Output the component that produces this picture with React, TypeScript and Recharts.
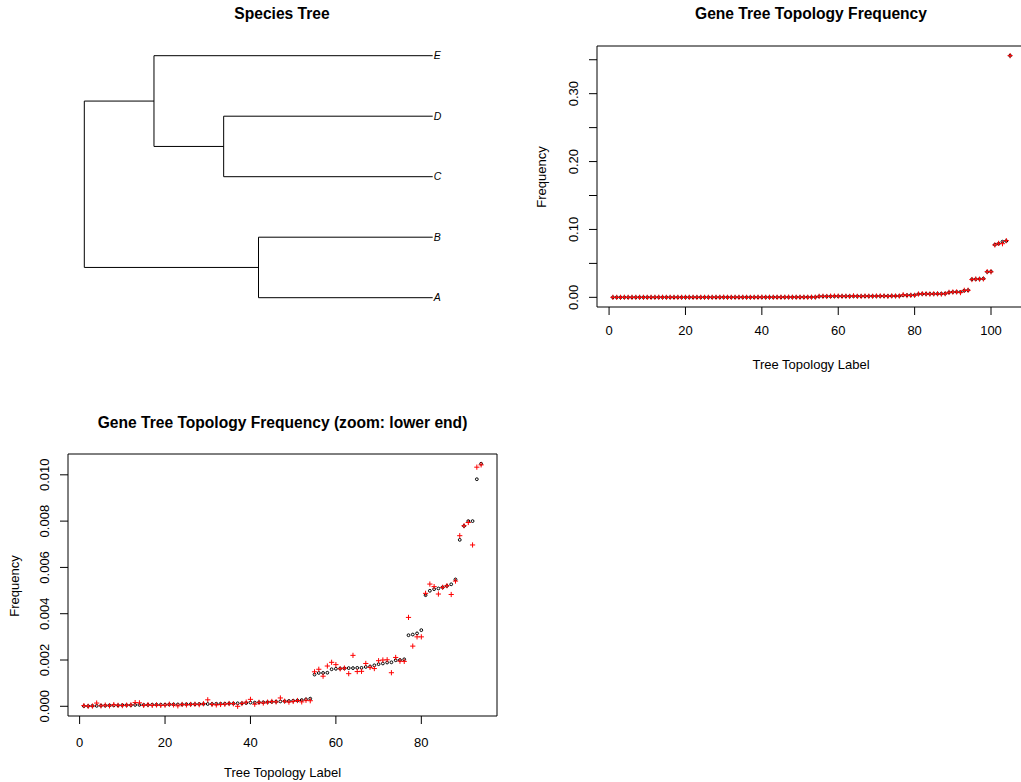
import { ScatterChart, Scatter, XAxis, YAxis, ReferenceArea, ReferenceLine } from 'recharts';

const FONT = '"Liberation Sans", Arial, Helvetica, sans-serif';

// species tree: ((E,(D,C)),(B,A)), depth measured from the root
const tipNames = ['A', 'B', 'C', 'D', 'E'];
const tipDepth = [1, 1, 1, 1, 1];
const nodeNames = ['root', 'AB', 'CDE', 'CD'];
const nodeDepth = [0, 0.5, 0.2, 0.4];
const nodeChildren = [['AB', 'CDE'], ['A', 'B'], ['CD', 'E'], ['C', 'D']];

// gene tree topology frequencies, sorted by expected value
const expectedFreq = [
  0.00001, 0.00001, 0.00002, 0.00002, 0.00003, 0.00003, 0.00004, 0.00004, 0.00004, 0.00005,
  0.00005, 0.00005, 0.00006, 0.00006, 0.00006, 0.00006, 0.00007, 0.00007, 0.00007, 0.00007,
  0.00008, 0.00008, 0.00008, 0.00008, 0.00009, 0.00009, 0.00009, 0.0001, 0.0001, 0.0001,
  0.0001, 0.00011, 0.00011, 0.00011, 0.00012, 0.00012, 0.00013, 0.00013, 0.00014, 0.00016,
  0.00016, 0.00017, 0.00017, 0.00018, 0.00019, 0.0002, 0.00021, 0.00022, 0.00023, 0.00024,
  0.00025, 0.00027, 0.0003, 0.00033,
  0.00137, 0.00144, 0.00144, 0.00145, 0.0016, 0.00162, 0.00163, 0.00164, 0.00165, 0.00165,
  0.00166, 0.00166, 0.0017, 0.00172, 0.00177, 0.00182, 0.00185, 0.00189, 0.0019, 0.00199,
  0.002, 0.00203, 0.00307, 0.0031, 0.00315, 0.00329, 0.0048, 0.00499, 0.00506, 0.00509,
  0.00514, 0.0052, 0.00527, 0.00548, 0.00719, 0.00779, 0.008, 0.008, 0.00981, 0.01048,
  0.0265, 0.0267, 0.027, 0.0275, 0.0375, 0.038, 0.0775, 0.079, 0.082, 0.083, 0.356,
];
const observedFreq = [
  0.00003, 0.0, 0.00001, 0.00014, 0.00002, 0.00005, 0.00002, 0.00007, 0.00004, 0.00003,
  0.00005, 0.00006, 0.00016, 0.00015, 0.00004, 0.00007, 0.00004, 0.00006, 0.00004, 0.00005,
  0.00009, 0.00006, 0.00002, 0.00008, 0.00006, 0.00008, 0.00009, 0.00007, 0.00011, 0.00028,
  0.00008, 0.00006, 0.00008, 0.00009, 0.00012, 0.00011, 0.0, 0.00012, 0.00018, 0.0003,
  0.00009, 0.00017, 0.00014, 0.00018, 0.00021, 0.00019, 0.00036, 0.00022, 0.00018, 0.00021,
  0.00025, 0.00019, 0.00026, 0.00024,
  0.00149, 0.0016, 0.0013, 0.00174, 0.0019, 0.0018, 0.00162, 0.00165, 0.00141, 0.0022,
  0.0015, 0.00151, 0.00185, 0.00168, 0.00163, 0.00197, 0.002, 0.00201, 0.00145, 0.00211,
  0.00195, 0.00194, 0.00384, 0.0026, 0.003, 0.003, 0.00488, 0.00528, 0.00517, 0.00485,
  0.00514, 0.00521, 0.00483, 0.00541, 0.00737, 0.0078, 0.00794, 0.00697, 0.01033, 0.01043,
  0.0262, 0.027, 0.0268, 0.0272, 0.0378, 0.0376, 0.0772, 0.0795, 0.079, 0.0835, 0.356,
];
const zoomCount = 94;

const xTicksFull = [0, 20, 40, 60, 80, 100];
const yTicksFull = [0, 0.05, 0.1, 0.15, 0.2, 0.25, 0.3, 0.35];
const yLabelsFull = [0, 0.1, 0.2, 0.3];
const xTicksZoom = [0, 20, 40, 60, 80];
const yTicksZoom = [0, 0.002, 0.004, 0.006, 0.008, 0.01];

const toRows = (vals: number[]) => vals.map((y, i) => ({ x: i + 1, y }));

// R style axis range: data range plus 4% on each side
const padRange = (lo: number, hi: number): [number, number] => {
  const p = (hi - lo) * 0.04;
  return [lo - p, hi + p];
};

const Circle = (p: any) => (
  <circle cx={p.cx} cy={p.cy} r={1.4} fill="none" stroke="#000" strokeWidth={1} />
);
const Plus = (p: any) => (
  <path d={`M${p.cx - 2.6},${p.cy}h5.2M${p.cx},${p.cy - 2.6}v5.2`} stroke="#ff0000" strokeWidth={1} fill="none" />
);

const XTick = ({ x, y, payload, dy }: any) => (
  <text x={x} y={y} dy={dy} textAnchor="middle" fontSize={13} fontFamily={FONT} fill="#000">
    {payload.value}
  </text>
);

const YTick = ({ x, y, payload, fmt }: any) => {
  const label = fmt(payload.value);
  if (!label) return <g />;
  const cx = x - 13.5;
  return (
    <text x={cx} y={y} dy="0.355em" transform={`rotate(-90, ${cx}, ${y})`} textAnchor="middle" fontSize={13} fontFamily={FONT} fill="#000">
      {label}
    </text>
  );
};

const Txt = ({ x, y, size = 13, bold = false, rotate = false, children }: any) => (
  <div
    style={{
      position: 'absolute', left: x, top: y, whiteSpace: 'nowrap', fontSize: size,
      fontWeight: bold ? 'bold' : 'normal', lineHeight: 1,
      transform: `translate(-50%, -50%)${rotate ? ' rotate(-90deg)' : ''}`,
    }}
  >
    {children}
  </div>
);

function SpeciesTree() {
  const yOf: Record<string, number> = {};
  const depthOf: Record<string, number> = {};
  tipNames.forEach((n, i) => { yOf[n] = i + 1; depthOf[n] = tipDepth[i]; });
  nodeNames.forEach((n, i) => { depthOf[n] = nodeDepth[i]; });
  const nodeY = (n: string): number => {
    if (yOf[n] !== undefined) return yOf[n];
    const kids = nodeChildren[nodeNames.indexOf(n)];
    yOf[n] = (nodeY(kids[0]) + nodeY(kids[1])) / 2;
    return yOf[n];
  };
  nodeNames.forEach(nodeY);

  const segments: { x1: number; y1: number; x2: number; y2: number }[] = [];
  nodeNames.forEach((n, i) => {
    const kids = nodeChildren[i];
    segments.push({ x1: depthOf[n], y1: yOf[kids[0]], x2: depthOf[n], y2: yOf[kids[1]] });
    kids.forEach((k) => segments.push({ x1: depthOf[n], y1: yOf[k], x2: depthOf[k], y2: yOf[k] }));
  });
  const tips = tipNames.map((name, i) => ({ x: tipDepth[i], y: i + 1, name }));

  return (
    <ScatterChart width={510} height={391} margin={{ top: 55.7, right: 77.3, bottom: 93.3, left: 84.3 }}>
      <XAxis type="number" dataKey="x" domain={[0, 1]} hide />
      <YAxis type="number" dataKey="y" domain={[1, 5]} hide />
      {segments.map((s, i) => (
        <ReferenceLine
          key={i}
          segment={[{ x: s.x1, y: s.y1 }, { x: s.x2, y: s.y2 }]}
          stroke="#000"
          strokeWidth={1}
          ifOverflow="visible"
        />
      ))}
      <Scatter
        data={tips}
        isAnimationActive={false}
        shape={(p: any) => (
          <text x={p.cx + 1} y={p.cy} dy="0.355em" fontSize={10.5} fontStyle="italic" fontFamily={FONT} fill="#000">
            {p.payload.name}
          </text>
        )}
      />
    </ScatterChart>
  );
}

function FreqChart({ exp, obs, width, height, margin, yAxisWidth, xTicks, yTicks, yFmt, xDy }: any) {
  const xDom = padRange(1, exp.length);
  const all = exp.concat(obs);
  const yDom = padRange(Math.min(...all), Math.max(...all));
  return (
    <ScatterChart width={width} height={height} margin={margin}>
      <XAxis
        type="number" dataKey="x" domain={xDom} ticks={xTicks} allowDataOverflow
        axisLine={false} tickSize={8} tickLine={{ stroke: '#000' }} height={40}
        tick={(p: any) => <XTick {...p} dy={xDy} />}
      />
      <YAxis
        type="number" dataKey="y" domain={yDom} ticks={yTicks} allowDataOverflow
        axisLine={false} tickSize={8} tickLine={{ stroke: '#000' }} width={yAxisWidth}
        tick={(p: any) => <YTick {...p} fmt={yFmt} />}
      />
      <ReferenceArea x1={xDom[0]} x2={xDom[1]} y1={yDom[0]} y2={yDom[1]} fill="none" stroke="#000" strokeWidth={1} ifOverflow="visible" />
      <Scatter data={toRows(exp)} isAnimationActive={false} shape={Circle} />
      <Scatter data={toRows(obs)} isAnimationActive={false} shape={Plus} />
    </ScatterChart>
  );
}

export default function App() {
  return (
    <div
      style={{
        position: 'absolute', left: 0, top: 0, width: 1021, height: 782, overflow: 'hidden',
        background: '#fff', fontFamily: FONT, color: '#000',
      }}
    >
      <div style={{ position: 'absolute', left: 0, top: 0 }}>
        <SpeciesTree />
      </div>
      <Txt x={282} y={14} size={15.6} bold>Species Tree</Txt>

      <div style={{ position: 'absolute', left: 510, top: 0 }}>
        <FreqChart
          exp={expectedFreq}
          obs={observedFreq}
          width={520}
          height={391}
          margin={{ top: 46, right: 4, bottom: 44, left: 0 }}
          yAxisWidth={87}
          xTicks={xTicksFull}
          yTicks={yTicksFull}
          yFmt={(v: number) => (yLabelsFull.includes(v) ? v.toFixed(2) : '')}
          xDy={18}
        />
      </div>
      <Txt x={811} y={14} size={15.6} bold>Gene Tree Topology Frequency</Txt>
      <Txt x={811} y={364}>Tree Topology Label</Txt>
      <Txt x={541} y={177} rotate>Frequency</Txt>

      <div style={{ position: 'absolute', left: 0, top: 391 }}>
        <FreqChart
          exp={expectedFreq.slice(0, zoomCount)}
          obs={observedFreq.slice(0, zoomCount)}
          width={510}
          height={391}
          margin={{ top: 63, right: 13, bottom: 26, left: 0 }}
          yAxisWidth={68}
          xTicks={xTicksZoom}
          yTicks={yTicksZoom}
          yFmt={(v: number) => v.toFixed(3)}
          xDy={21}
        />
      </div>
      <Txt x={282.5} y={423} size={15.6} bold>Gene Tree Topology Frequency (zoom: lower end)</Txt>
      <Txt x={282.5} y={772}>Tree Topology Label</Txt>
      <Txt x={14} y={586} rotate>Frequency</Txt>
    </div>
  );
}
